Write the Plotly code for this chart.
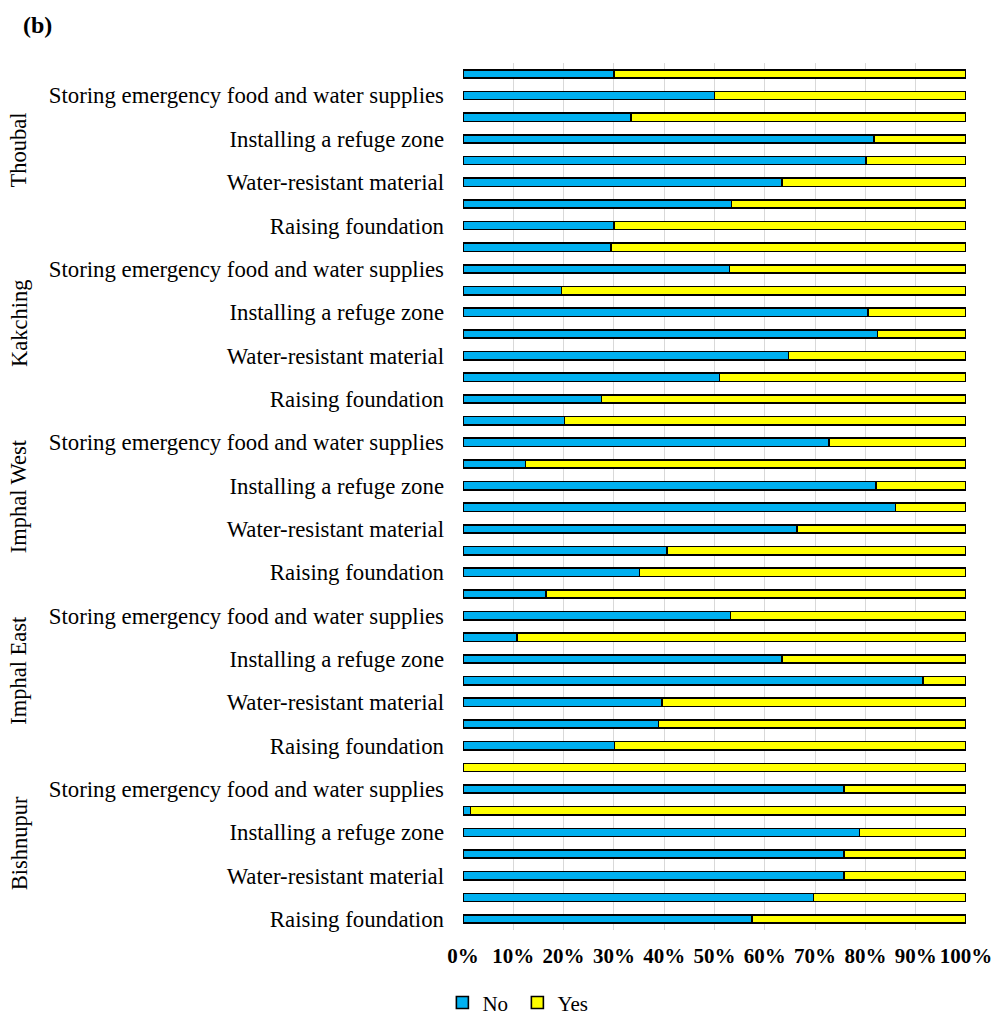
import plotly.graph_objects as go

# Flood-adaptation measures (bottom to top within each district)
measures = [
    "Raising foundation",
    "Elevating utilities",
    "Water-resistant material",
    "Installing flood barriers",
    "Installing a refuge zone",
    "Sealing openings",
    "Storing emergency food and water supplies",
    "Purchasing flood insurance",
]
# Only every other measure gets a visible tick label
labelled_measures = [0, 2, 4, 6]

# Districts from bottom to top
districts = ["Bishnupur", "Imphal East", "Imphal West", "Kakching", "Thoubal"]

# Share of respondents answering "No" (%), per measure in the order above
no_bishnupur = [57.5, 69.7, 75.8, 75.8, 78.8, 1.5, 75.8, 0.0]
no_imphal_east = [30.1, 38.9, 39.6, 91.5, 63.4, 10.7, 53.2, 16.5]
no_imphal_west = [35.1, 40.6, 66.4, 86.0, 82.1, 12.4, 72.8, 20.2]
no_kakching = [27.5, 51.0, 64.7, 82.4, 80.5, 19.6, 53.0, 29.4]
no_thoubal = [30.0, 53.4, 63.4, 80.1, 81.7, 33.4, 50.0, 30.0]

no_by_district = [no_bishnupur, no_imphal_east, no_imphal_west, no_kakching, no_thoubal]

n_m = len(measures)
ypos, no_vals, yes_vals, labels = [], [], [], []
for g, vals in enumerate(no_by_district):
    for m, v in enumerate(vals):
        ypos.append(g * n_m + m)
        no_vals.append(v / 100)
        yes_vals.append((100 - v) / 100)
        labels.append(f"{districts[g]} – {measures[m]}")

tickvals = [g * n_m + m for g in range(len(districts)) for m in labelled_measures]
ticktext = [measures[m] for g in range(len(districts)) for m in labelled_measures]

serif = "Liberation Serif, Times New Roman, serif"
outline = dict(color="black", width=1.6)

fig = go.Figure()
fig.add_trace(go.Bar(
    name="No", y=ypos, x=no_vals, orientation="h",
    marker=dict(color="#00b0f0", line=outline),
    customdata=labels, hovertemplate="%{customdata}<br>No: %{x:.1%}<extra></extra>",
))
fig.add_trace(go.Bar(
    name="Yes", y=ypos, x=yes_vals, orientation="h",
    marker=dict(color="#ffff00", line=outline),
    customdata=labels, hovertemplate="%{customdata}<br>Yes: %{x:.1%}<extra></extra>",
))

# District names, rotated, centred on each group of bars
for g, name in enumerate(districts):
    fig.add_annotation(
        text=name, textangle=-90, showarrow=False,
        xref="paper", x=-0.883, xanchor="center",
        yref="y", y=g * n_m + (n_m - 1) / 2, yanchor="middle",
        font=dict(family=serif, size=22.5, color="black"),
    )

fig.add_annotation(
    text="<b>(b)</b>", showarrow=False, xref="paper", yref="paper",
    x=-0.845, xanchor="center", y=1.044, yanchor="middle",
    font=dict(family=serif, size=24, color="black"),
)

fig.update_layout(
    width=995, height=1015,
    margin=dict(l=463, r=29, t=63, b=85, autoexpand=False),
    barmode="stack", bargap=0.62,
    plot_bgcolor="white", paper_bgcolor="white",
    font=dict(family=serif, color="black"),
    showlegend=True,
    legend=dict(
        orientation="h", x=-0.041, xanchor="left", y=-0.084, yanchor="middle",
        font=dict(family=serif, size=21, color="black"),
        itemwidth=30, entrywidth=30, traceorder="normal",
    ),
)
fig.update_xaxes(
    range=[0, 1], dtick=0.1, tickformat=".0%", tickangle=0,
    showgrid=True, gridcolor="#d9d9d9", gridwidth=1,
    zeroline=False, showline=False, ticks="", automargin=False,
    tickfont=dict(family=serif, size=21, color="black", weight="bold"),
    ticklabelstandoff=11,
)
fig.update_yaxes(
    range=[-0.5, len(districts) * n_m - 0.5],
    tickmode="array", tickvals=tickvals, ticktext=ticktext,
    showgrid=False, zeroline=False, showline=False, ticks="", automargin=False,
    tickfont=dict(family=serif, size=22.8, color="black"),
    ticklabelstandoff=18,
)

fig.write_html("out.html")
